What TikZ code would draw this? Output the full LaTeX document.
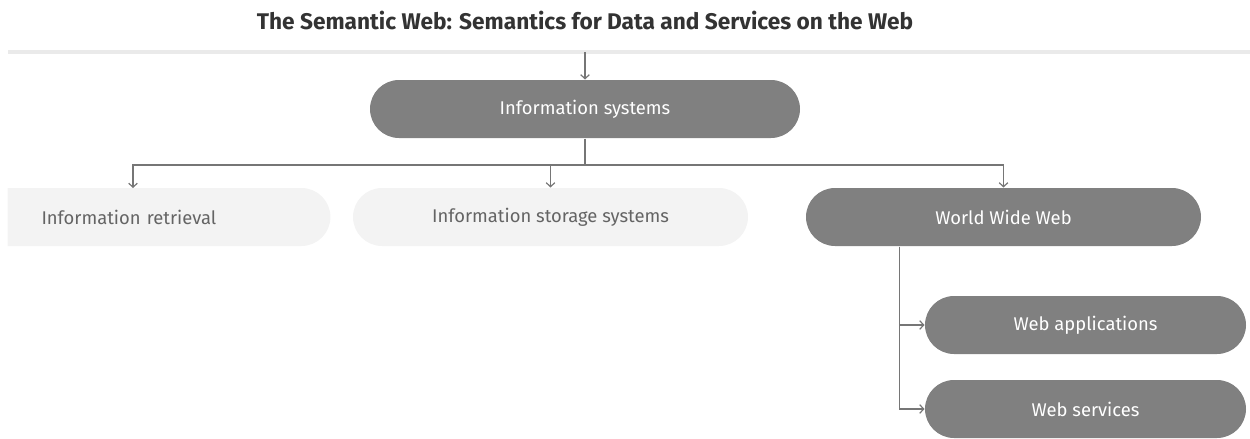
\documentclass[tikz,border=0pt]{standalone}
\usepackage{fontspec}
\setmainfont{Fira Sans}
\usetikzlibrary{shapes.misc,arrows.meta,calc}

\definecolor{boxdark}{RGB}{128,128,128}
\definecolor{boxlight}{RGB}{243,243,243}
\definecolor{textgrey}{RGB}{100,100,100}
\definecolor{titlegrey}{RGB}{51,51,51}
\definecolor{linkgrey}{RGB}{118,118,118}
\definecolor{rulegrey}{RGB}{234,234,234}

\tikzset{every picture/.style={line width=0.75pt}}
\tikzset{
  catbox/.style={rounded rectangle, minimum height=43.5pt, inner sep=0pt, font=\fontsize{13.8}{16}\selectfont},
  darkbox/.style={catbox, fill=boxdark, text=white},
  lightbox/.style={catbox, fill=boxlight, text=textgrey},
  link/.style={draw=linkgrey, line width=0.9pt},
  linkarrow/.style={link, -{Straight Barb[length=3pt,width=6.5pt]}}
}

\begin{document}
\begin{tikzpicture}[x=0.75pt,y=0.75pt,yscale=-1,xscale=1]
\useasboundingbox (0,0) rectangle (1250,439);

% Title
\node (title) [text=titlegrey, font=\fontsize{17}{20}\selectfont\bfseries] at (585,21) {The Semantic Web: Semantics for Data and Services on the Web};
% Rule under the title
\coordinate (ruleL) at (8,52);
\coordinate (ruleR) at (1250,52);
\draw [rulegrey, line width=2.5pt] (ruleL) -- (ruleR);

% Boxes
\node (is) [darkbox, minimum width=322.5pt] at (585,109) {Information systems};
\node (ir) [lightbox, anchor=west, rounded rectangle left arc=none, inner xsep=25.5pt, text width=190.5pt, align=left] at (7,217) {Information retrieval};
\node (iss) [lightbox, minimum width=296.25pt] at (550.5,217) {Information storage systems};
\node (www) [darkbox, minimum width=296.25pt] at (1003.5,217) {World Wide Web};
\node (wa) [darkbox, minimum width=240.75pt] at (1085.5,325) {Web applications};
\node (ws) [darkbox, minimum width=240.75pt] at (1085.5,409) {Web services};

% Connectors
\draw [linkarrow] (is.north |- ruleL) -- (is.north);
\coordinate (split) at (585,165);
\coordinate (irtop) at (133,188);
\draw [link] (is.south) -- (split);
\draw [linkarrow] (split) -| (irtop);
\draw [linkarrow] (split) -| (iss.north);
\draw [linkarrow] (split) -| (www.north);
\coordinate (trunk) at ($(wa.west)+(-25,0)$);
\draw [linkarrow] (trunk |- www.south) |- (wa.west);
\draw [linkarrow] (trunk |- www.south) |- (ws.west);

\end{tikzpicture}
\end{document}
